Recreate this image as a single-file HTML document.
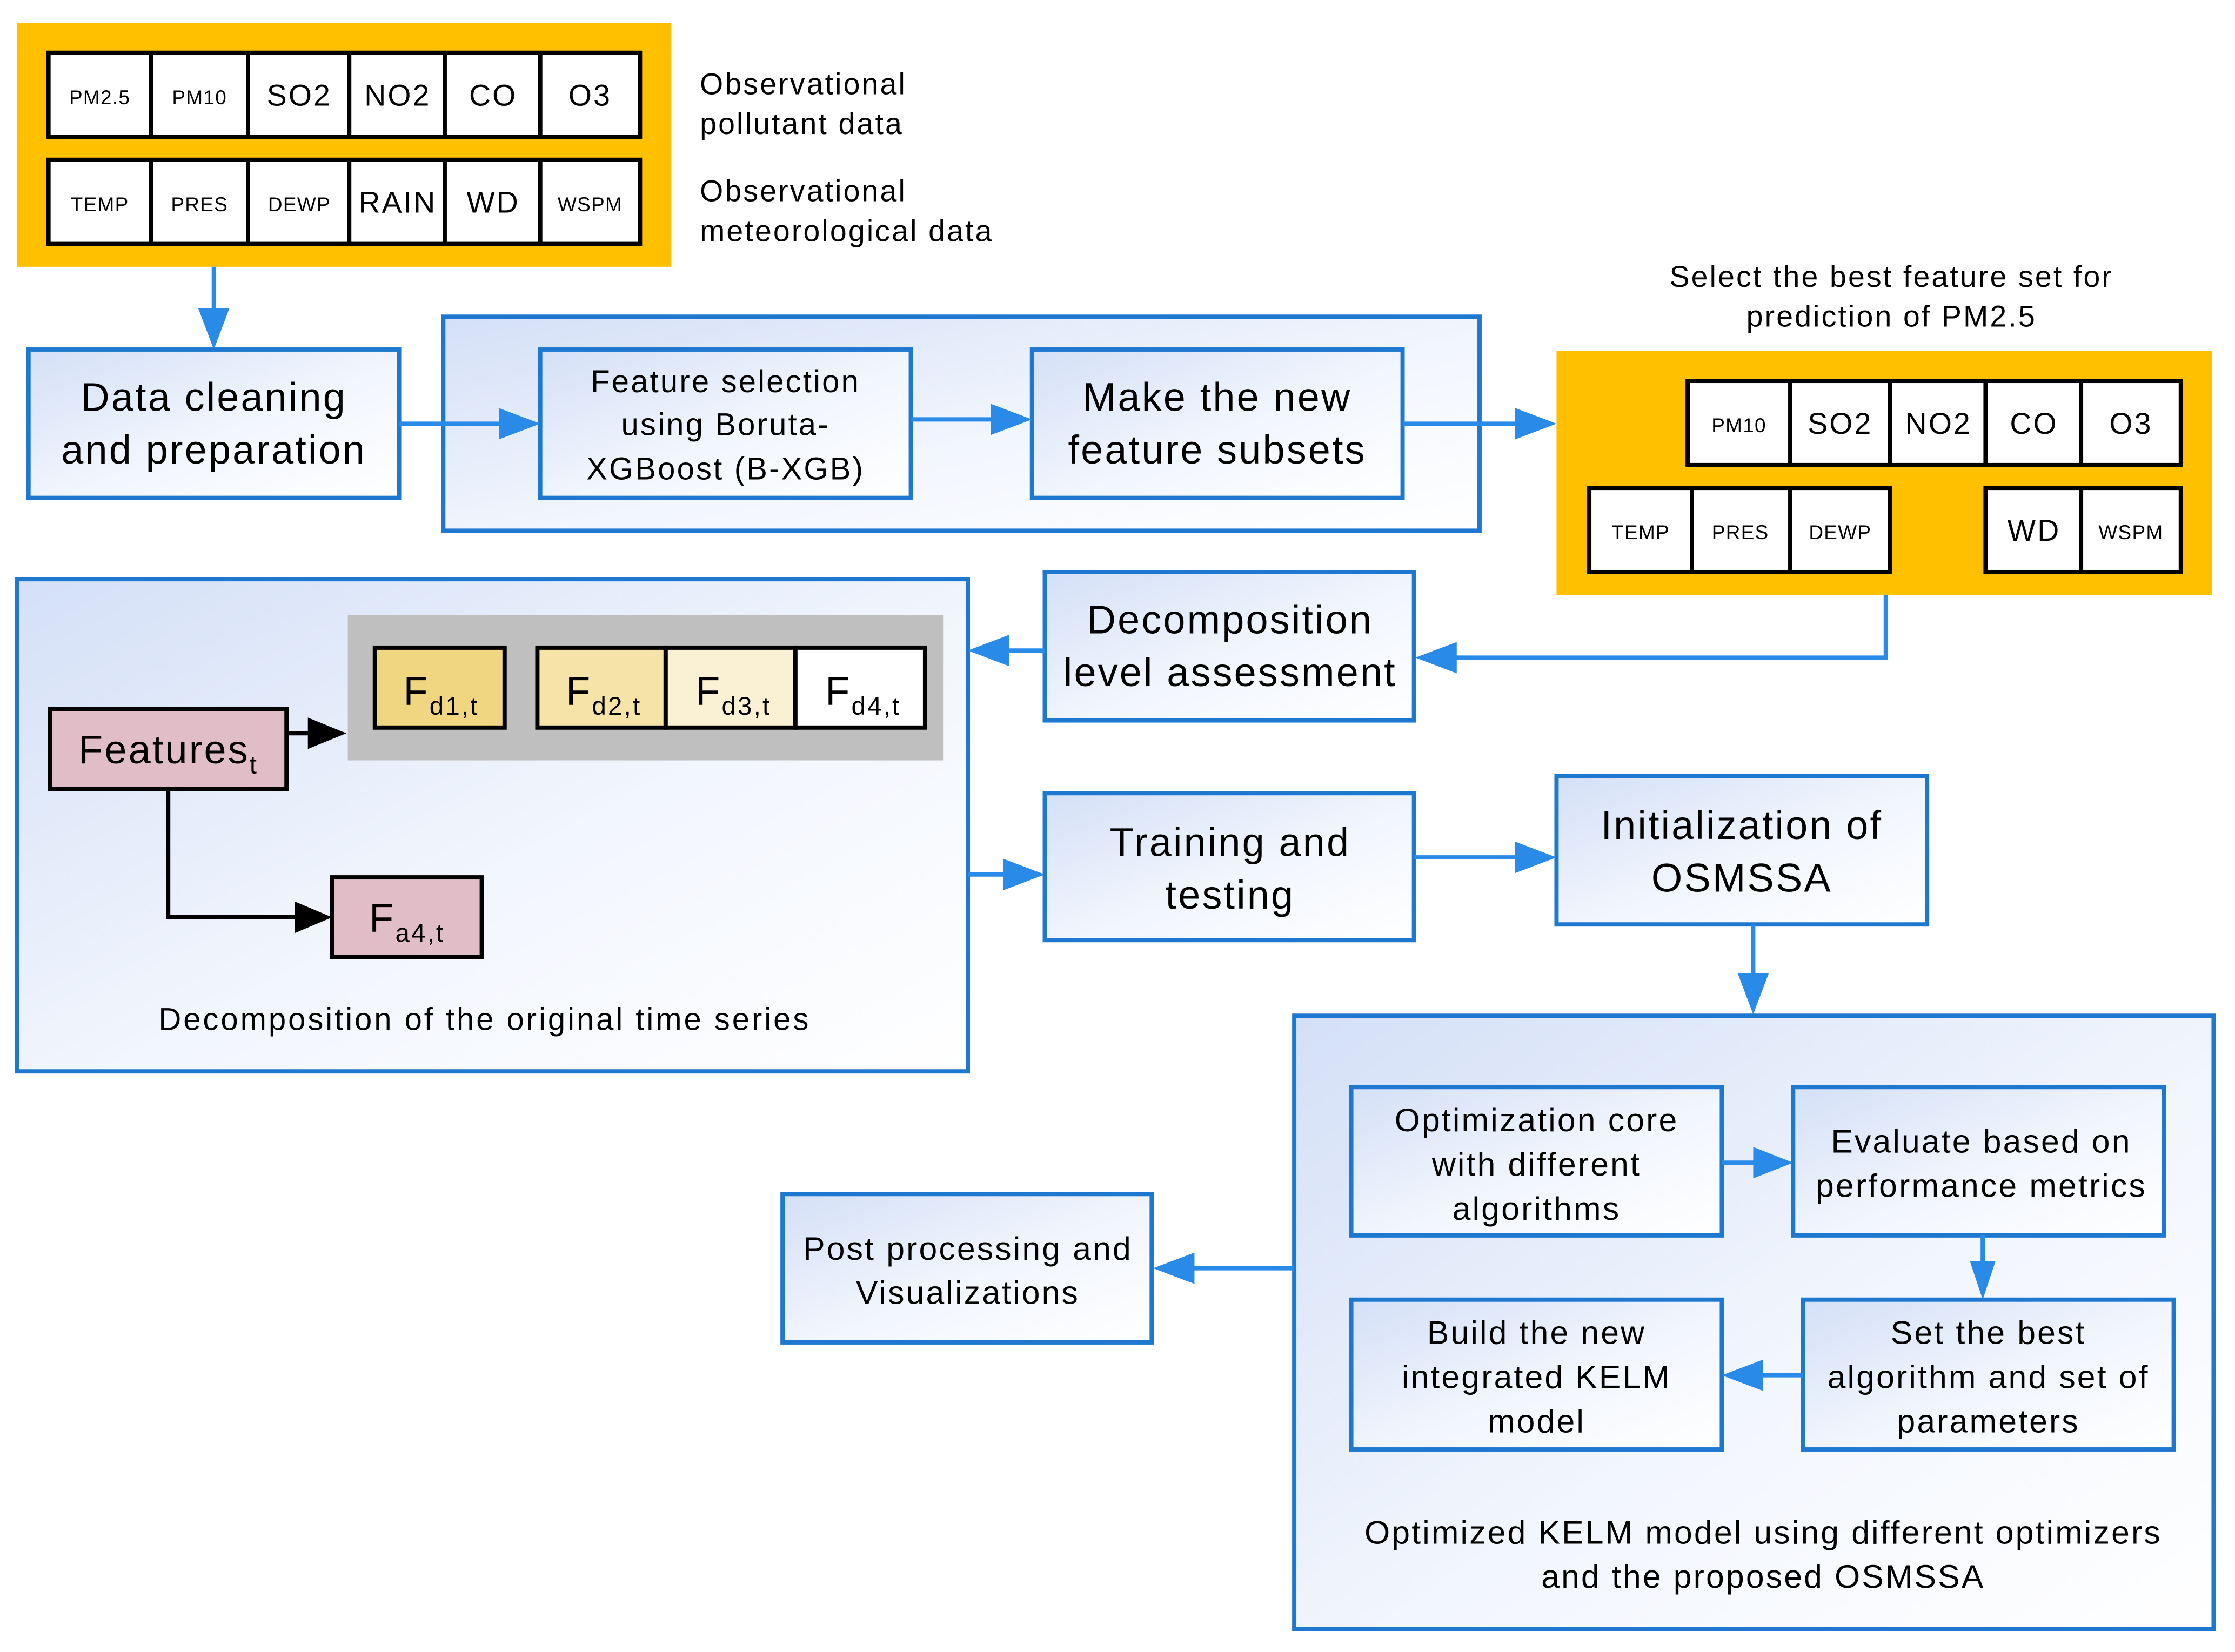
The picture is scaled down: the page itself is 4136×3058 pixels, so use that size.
<!DOCTYPE html>
<html><head><meta charset="utf-8"><style>html,body{margin:0;padding:0;background:#fff}svg{display:block}</style></head>
<body>
<svg xmlns="http://www.w3.org/2000/svg" width="4136" height="3058" viewBox="0 0 1568 1158" preserveAspectRatio="none" font-family="Liberation Sans, Arial, sans-serif">
<defs>
<linearGradient id="g" x1="0" y1="0" x2="1" y2="1">
<stop offset="0" stop-color="#d4e0f7"/><stop offset="0.55" stop-color="#f2f6fd"/><stop offset="1" stop-color="#ffffff"/>
</linearGradient>
</defs>
<style>
.b{fill:url(#g);stroke:#1e78d0;stroke-width:3}
.c{fill:#fff;stroke:#000;stroke-width:3}
.l{stroke:#2a8ae8;stroke-width:3;fill:none}
.ah{fill:#2a8ae8}
text{fill:#000;letter-spacing:1.2px}
</style>
<rect x="12" y="16" width="459" height="171" fill="#ffc000"/>
<g font-size="21" text-anchor="middle">
<rect class="c" x="34" y="37" width="415" height="59"/>
<rect class="c" x="34" y="112" width="415" height="59"/>
<path d="M106,37V96M174,37V96M245,37V96M312,37V96M379,37V96M106,112V171M174,112V171M245,112V171M312,112V171M379,112V171" stroke="#000" stroke-width="3"/>
<text x="70" y="73" font-size="14" style="letter-spacing:0.5px">PM2.5</text><text x="140" y="73" font-size="14" style="letter-spacing:0.5px">PM10</text>
<text x="210" y="74">SO2</text><text x="279" y="74">NO2</text><text x="346" y="74">CO</text><text x="414" y="74">O3</text>
<text x="70" y="148" font-size="14" style="letter-spacing:0.5px">TEMP</text><text x="140" y="148" font-size="14" style="letter-spacing:0.5px">PRES</text><text x="210" y="148" font-size="14" style="letter-spacing:0.5px">DEWP</text>
<text x="279" y="149">RAIN</text><text x="346" y="149">WD</text><text x="414" y="148" font-size="14" style="letter-spacing:0.5px">WSPM</text>
</g>
<g font-size="21"><text x="491" y="66">Observational</text><text x="491" y="94">pollutant data</text>
<text x="491" y="141">Observational</text><text x="491" y="169">meteorological data</text></g>
<path class="l" d="M150,187V220"/><path class="ah" d="M139,216H161L150,245z"/>
<rect class="b" x="311" y="222" width="727" height="150"/>
<rect class="b" x="20" y="245" width="260" height="104"/>
<rect class="b" x="379" y="245" width="260" height="104"/>
<rect class="b" x="724" y="245" width="260" height="104"/>
<g text-anchor="middle">
<text x="150" y="288" font-size="28">Data cleaning</text><text x="150" y="325" font-size="28">and preparation</text>
<text x="509" y="275" font-size="22">Feature selection</text><text x="509" y="305" font-size="22">using Boruta-</text><text x="509" y="336" font-size="22">XGBoost (B-XGB)</text>
<text x="854" y="288" font-size="28">Make the new</text><text x="854" y="325" font-size="28">feature subsets</text>
</g>
<path class="l" d="M280,297H352"/><path class="ah" d="M350,286V308L379,297z"/>
<path class="l" d="M639,294H697"/><path class="ah" d="M695,283V305L724,294z"/>
<path class="l" d="M984,297H1065"/><path class="ah" d="M1063,286V308L1092,297z"/>
<g font-size="21" text-anchor="middle"><text x="1327" y="201">Select the best feature set for</text><text x="1327" y="229">prediction of PM2.5</text></g>
<rect x="1092" y="246" width="460" height="171" fill="#ffc000"/>
<g font-size="21" text-anchor="middle">
<rect class="c" x="1184" y="267" width="346" height="59"/>
<path d="M1256,267V326M1326,267V326M1393,267V326M1460,267V326" stroke="#000" stroke-width="3"/>
<rect class="c" x="1115" y="342" width="211" height="59"/>
<path d="M1187,342V401M1256,342V401" stroke="#000" stroke-width="3"/>
<rect class="c" x="1393" y="342" width="137" height="59"/>
<path d="M1460,342V401" stroke="#000" stroke-width="3"/>
<text x="1220" y="303" font-size="14" style="letter-spacing:0.5px">PM10</text><text x="1291" y="304">SO2</text><text x="1360" y="304">NO2</text><text x="1427" y="304">CO</text><text x="1495" y="304">O3</text>
<text x="1151" y="378" font-size="14" style="letter-spacing:0.5px">TEMP</text><text x="1221" y="378" font-size="14" style="letter-spacing:0.5px">PRES</text><text x="1291" y="378" font-size="14" style="letter-spacing:0.5px">DEWP</text>
<text x="1427" y="379">WD</text><text x="1495" y="378" font-size="14" style="letter-spacing:0.5px">WSPM</text>
</g>
<path class="l" d="M1323,417V461H1020"/><path class="ah" d="M1022,450V472L993,461z"/>
<rect class="b" x="733" y="401" width="259" height="104"/>
<g text-anchor="middle" font-size="28"><text x="863" y="444">Decomposition</text><text x="863" y="481">level assessment</text></g>
<rect class="b" x="12" y="406" width="667" height="345"/>
<path class="l" d="M733,456H706"/><path class="ah" d="M708,445V467L679,456z"/>
<rect x="244" y="431" width="418" height="102" fill="#bfbfbf"/>
<rect x="263" y="454" width="91" height="56" fill="#f0d681" stroke="#000" stroke-width="3"/>
<rect x="377" y="454" width="90" height="56" fill="#f6e3a7" stroke="#000" stroke-width="3"/>
<rect x="467" y="454" width="91" height="56" fill="#faf0d4" stroke="#000" stroke-width="3"/>
<rect x="558" y="454" width="91" height="56" fill="#fff" stroke="#000" stroke-width="3"/>
<g font-size="28"><text x="283" y="494">F<tspan font-size="18" dy="7">d1,t</tspan></text>
<text x="397" y="494">F<tspan font-size="18" dy="7">d2,t</tspan></text>
<text x="488" y="494">F<tspan font-size="18" dy="7">d3,t</tspan></text>
<text x="579" y="494">F<tspan font-size="18" dy="7">d4,t</tspan></text></g>
<rect x="35" y="497" width="166" height="56" fill="#e1bdc8" stroke="#000" stroke-width="3"/>
<text x="55" y="535" font-size="28">Features<tspan font-size="18" dy="7">t</tspan></text>
<path d="M201,514H218" stroke="#000" stroke-width="3"/><path d="M216,503V525L243,514z"/>
<path d="M118,553V643H208" stroke="#000" stroke-width="3" fill="none"/><path d="M207,632V654L233,643z"/>
<rect x="233" y="615" width="105" height="56" fill="#e1bdc8" stroke="#000" stroke-width="3"/>
<text x="259" y="653" font-size="28">F<tspan font-size="18" dy="7">a4,t</tspan></text>
<text x="340" y="722" font-size="22" text-anchor="middle" style="letter-spacing:1.5px">Decomposition of the original time series</text>
<path class="l" d="M679,613H706"/><path class="ah" d="M704,602V624L733,613z"/>
<rect class="b" x="733" y="556" width="259" height="103"/>
<g text-anchor="middle" font-size="28"><text x="863" y="600">Training and</text><text x="863" y="637">testing</text></g>
<path class="l" d="M992,601H1065"/><path class="ah" d="M1063,590V612L1092,601z"/>
<rect class="b" x="1092" y="544" width="260" height="104"/>
<g text-anchor="middle" font-size="28"><text x="1222" y="588">Initialization of</text><text x="1222" y="625">OSMSSA</text></g>
<path class="l" d="M1230,648V684"/><path class="ah" d="M1219,682H1241L1230,711z"/>
<rect class="b" x="908" y="712" width="645" height="430"/>
<rect class="b" x="948" y="762" width="260" height="104"/>
<rect class="b" x="1258" y="762" width="260" height="104"/>
<rect class="b" x="1265" y="911" width="260" height="105"/>
<rect class="b" x="948" y="911" width="260" height="105"/>
<g text-anchor="middle" font-size="23">
<text x="1078" y="793">Optimization core</text><text x="1078" y="824">with different</text><text x="1078" y="855">algorithms</text>
<text x="1390" y="808">Evaluate based on</text><text x="1390" y="839">performance metrics</text>
<text x="1395" y="942">Set the best</text><text x="1395" y="973">algorithm and set of</text><text x="1395" y="1004">parameters</text>
<text x="1078" y="942">Build the new</text><text x="1078" y="973">integrated KELM</text><text x="1078" y="1004">model</text>
<text x="1237" y="1082">Optimized KELM model using different optimizers</text><text x="1237" y="1113">and the proposed OSMSSA</text>
</g>
<path class="l" d="M1208,815H1232"/><path class="ah" d="M1230,804V826L1258,815z"/>
<path class="l" d="M1391,866V886"/><path class="ah" d="M1382,884H1400L1391,911z"/>
<path class="l" d="M1265,964H1235"/><path class="ah" d="M1237,953V975L1208,964z"/>
<path class="l" d="M908,889H836"/><path class="ah" d="M838,878V900L809,889z"/>
<rect class="b" x="549" y="837" width="259" height="104"/>
<g text-anchor="middle" font-size="23"><text x="679" y="883">Post processing and</text><text x="679" y="914">Visualizations</text></g>
</svg>
</body></html>
